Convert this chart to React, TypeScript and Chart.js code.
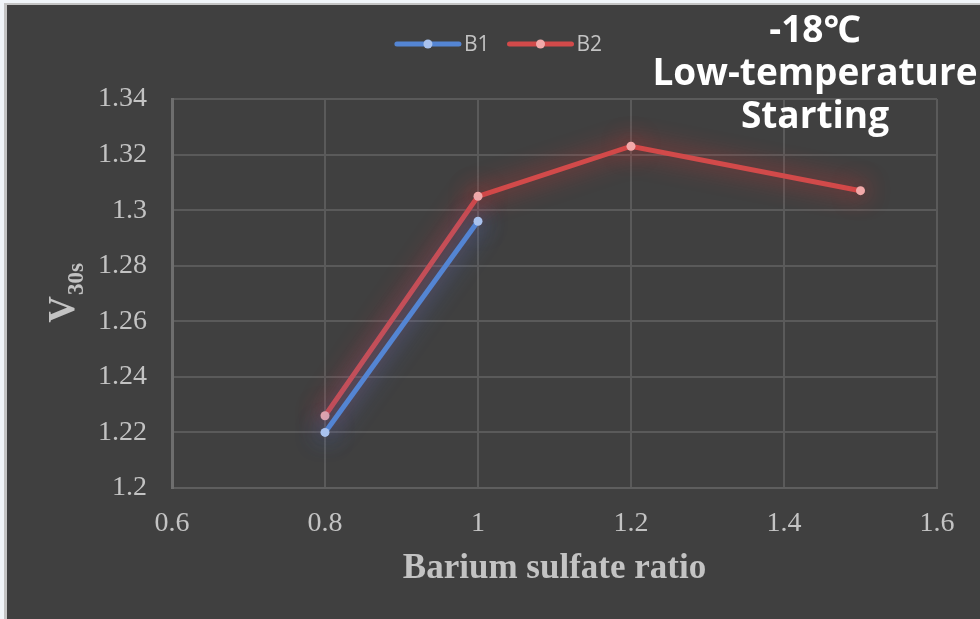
import React, { useEffect, useRef } from "react";
import { Chart, registerables } from "chart.js";

Chart.register(...registerables);

// Barium sulfate ratio vs. 30 s voltage at -18℃ cold start
const seriesNames = ["B1", "B2"];
const b1Ratio = [0.8, 1.0];
const b1Voltage = [1.22, 1.296];
const b2Ratio = [0.8, 1.0, 1.2, 1.5];
const b2Voltage = [1.226, 1.305, 1.323, 1.307];

const xTickValues = [0.6, 0.8, 1.0, 1.2, 1.4, 1.6];
const xTickLabels = ["0.6", "0.8", "1", "1.2", "1.4", "1.6"];
const yTickValues = [1.2, 1.22, 1.24, 1.26, 1.28, 1.3, 1.32, 1.34];
const yTickLabels = ["1.2", "1.22", "1.24", "1.26", "1.28", "1.3", "1.32", "1.34"];

const xAxisTitle = "Barium sulfate ratio";
const yAxisTitleMain = "V";
const yAxisTitleSub = "30s";
const headline = ["-18℃", "Low-temperature", "Starting"];

const BG = "#404040";
const TEXT = "#c3c3c3";
const SERIF = "'Liberation Serif', 'Times New Roman', serif";
const SANS = "'Open Sans', 'Noto Sans', sans-serif";
const lineColors = ["#5485d3", "#d24a4a"];
const pointColors = ["#a9c2ee", "#f2a9a9"];
const glowColors = ["rgba(70,125,225,0.95)", "rgba(230,50,50,0.95)"];

const framePlugin = {
  id: "frame",
  beforeDraw(chart: any) {
    const { ctx, width, height } = chart;
    ctx.save();
    ctx.fillStyle = "#f1f5f9";
    ctx.fillRect(0, 0, width, height);
    ctx.fillStyle = "#c4c4c4";
    ctx.fillRect(4, 3, width, height);
    ctx.fillStyle = BG;
    ctx.fillRect(7, 5, width, height);
    ctx.restore();
  },
};

const glowPlugin = {
  id: "glow",
  beforeDatasetDraw(chart: any, args: any) {
    const ctx = chart.ctx;
    ctx.save();
    ctx.shadowColor = glowColors[args.index];
    ctx.shadowBlur = 24;
  },
  afterDatasetDraw(chart: any) {
    chart.ctx.restore();
  },
};

const decorPlugin = {
  id: "decor",
  afterDraw(chart: any) {
    const { ctx, chartArea } = chart;
    const { left, right, top, bottom } = chartArea;
    ctx.save();

    // x-axis title
    ctx.fillStyle = TEXT;
    ctx.font = `bold 35px ${SERIF}`;
    ctx.textAlign = "center";
    ctx.textBaseline = "alphabetic";
    ctx.fillText(xAxisTitle, (left + right) / 2, bottom + 90);

    // y-axis title with subscript, rotated
    ctx.save();
    const cy = (top + bottom) / 2;
    ctx.translate(left - 98, cy);
    ctx.rotate(-Math.PI / 2);
    ctx.font = `bold 37px ${SERIF}`;
    const wMain = ctx.measureText(yAxisTitleMain).width;
    ctx.font = `bold 23px ${SERIF}`;
    const wSub = ctx.measureText(yAxisTitleSub).width;
    const start = -(wMain + wSub) / 2;
    ctx.textAlign = "left";
    ctx.font = `bold 37px ${SERIF}`;
    ctx.fillText(yAxisTitleMain, start, 0);
    ctx.font = `bold 23px ${SERIF}`;
    ctx.fillText(yAxisTitleSub, start + wMain + 1, 9);
    ctx.restore();

    // legend: line with a dot, then the series name
    const legendY = 44;
    const items = chart.data.datasets.map((d: any, i: number) => ({
      label: d.label,
      color: lineColors[i],
      dot: pointColors[i],
    }));
    ctx.font = `21px ${SANS}`;
    ctx.textBaseline = "middle";
    ctx.textAlign = "left";
    const lineLen = 62;
    const gap = 5;
    const itemGap = 20;
    const widths = items.map((it: any) => lineLen + gap + ctx.measureText(it.label).width);
    const total = widths.reduce((a: number, b: number) => a + b, 0) + itemGap * (items.length - 1);
    let x = (left + right) / 2 - total / 2 - 55;
    items.forEach((it: any, i: number) => {
      ctx.strokeStyle = it.color;
      ctx.lineWidth = 5;
      ctx.lineCap = "round";
      ctx.beginPath();
      ctx.moveTo(x, legendY);
      ctx.lineTo(x + lineLen, legendY);
      ctx.stroke();
      ctx.fillStyle = it.dot;
      ctx.beginPath();
      ctx.arc(x + lineLen / 2, legendY, 4.5, 0, Math.PI * 2);
      ctx.fill();
      ctx.fillStyle = TEXT;
      ctx.fillText(it.label, x + lineLen + gap, legendY + 1);
      x += widths[i] + itemGap;
    });

    // headline in the top-right corner
    ctx.fillStyle = "#ffffff";
    ctx.font = `bold 37px ${SANS}`;
    ctx.textAlign = "center";
    ctx.textBaseline = "alphabetic";
    const hx = 815;
    const baselines = [42, 85, 128];
    headline.forEach((t, i) => ctx.fillText(t, hx, baselines[i]));

    ctx.restore();
  },
};

export default function App() {
  const canvasRef = useRef<HTMLCanvasElement | null>(null);

  useEffect(() => {
    document.body.style.margin = "0";
    const canvas = canvasRef.current;
    if (!canvas) return;

    const chart = new Chart(canvas, {
      type: "line",
      data: {
        datasets: [
          {
            label: seriesNames[0],
            data: b1Ratio.map((r, i) => ({ x: r, y: b1Voltage[i] })),
            borderColor: lineColors[0],
            backgroundColor: pointColors[0],
            pointBackgroundColor: pointColors[0],
            pointBorderColor: pointColors[0],
            borderWidth: 5,
            pointRadius: 4.5,
            pointBorderWidth: 0,
            tension: 0,
          },
          {
            label: seriesNames[1],
            data: b2Ratio.map((r, i) => ({ x: r, y: b2Voltage[i] })),
            borderColor: lineColors[1],
            backgroundColor: pointColors[1],
            pointBackgroundColor: pointColors[1],
            pointBorderColor: pointColors[1],
            borderWidth: 5,
            pointRadius: 4.5,
            pointBorderWidth: 0,
            tension: 0,
          },
        ],
      },
      options: {
        responsive: false,
        animation: false,
        devicePixelRatio: 1,
        layout: { padding: { left: 0, top: 99, right: 43, bottom: 0 } },
        plugins: {
          legend: { display: false },
          title: { display: false },
          tooltip: { enabled: false },
        },
        scales: {
          x: {
            type: "linear",
            min: 0.6,
            max: 1.6,
            afterBuildTicks: (scale: any) => {
              scale.ticks = xTickValues.map((v) => ({ value: v }));
            },
            afterFit: (scale: any) => {
              scale.height = 131;
            },
            ticks: {
              color: TEXT,
              font: { family: SERIF, size: 28 },
              padding: 19,
              maxRotation: 0,
              autoSkip: false,
              callback: (value: any) => {
                const i = xTickValues.findIndex((v) => Math.abs(v - Number(value)) < 1e-9);
                return i >= 0 ? xTickLabels[i] : "";
              },
            },
            grid: { color: "#5a5a5a", lineWidth: 2, drawTicks: false },
            border: { color: "#5e5e5e", width: 2 },
          },
          y: {
            type: "linear",
            min: 1.2,
            max: 1.34,
            afterBuildTicks: (scale: any) => {
              scale.ticks = yTickValues.map((v) => ({ value: v }));
            },
            afterFit: (scale: any) => {
              scale.width = 172;
            },
            ticks: {
              color: TEXT,
              font: { family: SERIF, size: 28 },
              padding: 25,
              autoSkip: false,
              callback: (value: any) => {
                const i = yTickValues.findIndex((v) => Math.abs(v - Number(value)) < 1e-9);
                return i >= 0 ? yTickLabels[i] : "";
              },
            },
            grid: { color: "#5a5a5a", lineWidth: 2, drawTicks: false },
            border: { color: "#6e6e6e", width: 3 },
          },
        },
      },
      plugins: [framePlugin, glowPlugin, decorPlugin],
    });

    return () => chart.destroy();
  }, []);

  return (
    <div style={{ position: "fixed", left: 0, top: 0, width: 980, height: 619 }}>
      <canvas ref={canvasRef} width={980} height={619} />
    </div>
  );
}
